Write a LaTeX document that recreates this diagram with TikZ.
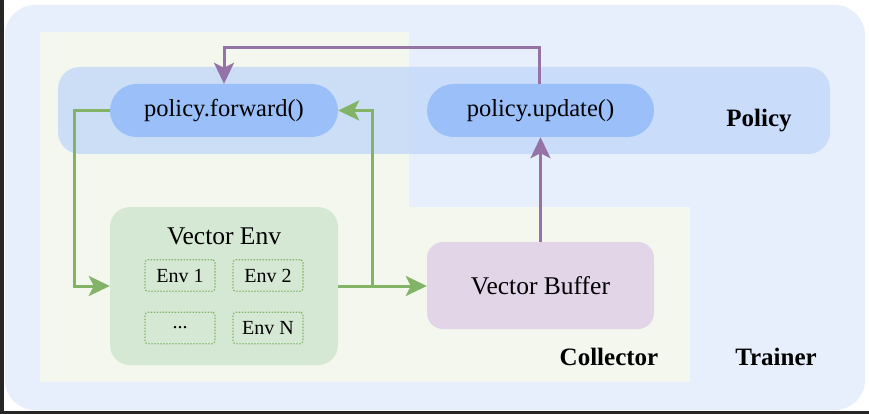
\documentclass[tikz,border=0pt]{standalone}
\usepackage{fontspec}
\setmainfont{Liberation Serif}
\usetikzlibrary{arrows.meta}

\definecolor{trainerbg}{HTML}{E8EFFC}
\definecolor{collectorbg}{HTML}{F3F7EE}
\definecolor{policybg}{HTML}{BFD6FA}
\definecolor{pillfill}{HTML}{9ABFF9}
\definecolor{envfill}{HTML}{D5E8D4}
\definecolor{buffill}{HTML}{E1D5E7}
\definecolor{flowgreen}{HTML}{82B366}
\definecolor{flowpurple}{HTML}{9673A6}

\tikzset{
  pill/.style={rectangle, rounded corners=26.5pt, fill=pillfill, inner sep=0pt,
    minimum width=228pt, minimum height=53pt, font=\fontsize{24.5}{28}\selectfont},
  envbox/.style={rectangle, rounded corners=20pt, fill=envfill, inner sep=0pt,
    minimum width=228pt, minimum height=158pt},
  bufbox/.style={rectangle, rounded corners=16pt, fill=buffill, inner sep=0pt,
    minimum width=227pt, minimum height=87pt, font=\fontsize{25.5}{30}\selectfont},
  subenv/.style={rectangle, rounded corners=3pt, draw=flowgreen, line width=1.3pt,
    dash pattern=on 1.3pt off 1.7pt, inner sep=0pt, minimum width=70pt, minimum height=31.5pt,
    font=\fontsize{20}{24}\selectfont},
  grouplabel/.style={font=\fontsize{25}{30}\selectfont\bfseries, inner sep=0pt},
  greenflow/.style={draw=flowgreen, line width=3pt,
    -{Stealth[length=21pt, width=20pt, inset=5pt]}},
  purpleflow/.style={draw=flowpurple, line width=3pt,
    -{Stealth[length=21pt, width=20pt, inset=5pt]}},
}

\begin{document}
\begin{tikzpicture}[x=1pt, y=-1pt]
\useasboundingbox (0,0) rectangle (869,414);
\fill[white] (0,0) rectangle (869,414);
\fill[black!85] (0,0) rectangle (4,414);
\fill[black!85] (0,411) rectangle (869,414);

% Trainer container
\fill[trainerbg, rounded corners=30pt] (5,5) rectangle (865,410);
% Collector region
\fill[collectorbg] (40,32) rectangle (690,382);
\fill[trainerbg] (409,32) rectangle (690,206.5);
% Policy band
\fill[policybg, fill opacity=0.75, rounded corners=22pt] (58,67) rectangle (830,154);

% Nodes
\node[pill] (fwd) at (224,110.5) {policy.forward()};
\node[pill, minimum width=227pt] (upd) at (540.5,110.5) {policy.update()};

\node[envbox] (venv) at (224,286) {};
\node[font=\fontsize{25.5}{30}\selectfont, inner sep=0pt] (venvtitle) at (224,236) {Vector Env};
\node[subenv] (env1) at (180,275.5) {Env 1};
\node[subenv] (env2) at (268,275.5) {Env 2};
\node[subenv] (envdots) at (180,328) {...};
\node[subenv] (envN) at (268,328) {Env N};

\node[bufbox] (buf) at (540.5,285.5) {Vector Buffer};

\node[grouplabel] (policylbl) at (759,121) {Policy};
\node[grouplabel] (collectorlbl) at (609,357) {Collector};
\node[grouplabel] (trainerlbl) at (776,357) {Trainer};

% Green data flow
\draw[greenflow] (fwd.west) -- ++(-35,0) |- (venv.west);
\draw[greenflow] (venv.east) -- (buf.west |- venv.east);
\coordinate (split) at (372,286);
\draw[greenflow] (split) |- (fwd.east);

% Purple update flow
\draw[purpleflow] (buf.north) -- (upd.south);
\draw[purpleflow] ([xshift=-1.5pt]upd.north) -- ++(0,-36) -| (fwd.north);
\end{tikzpicture}
\end{document}
